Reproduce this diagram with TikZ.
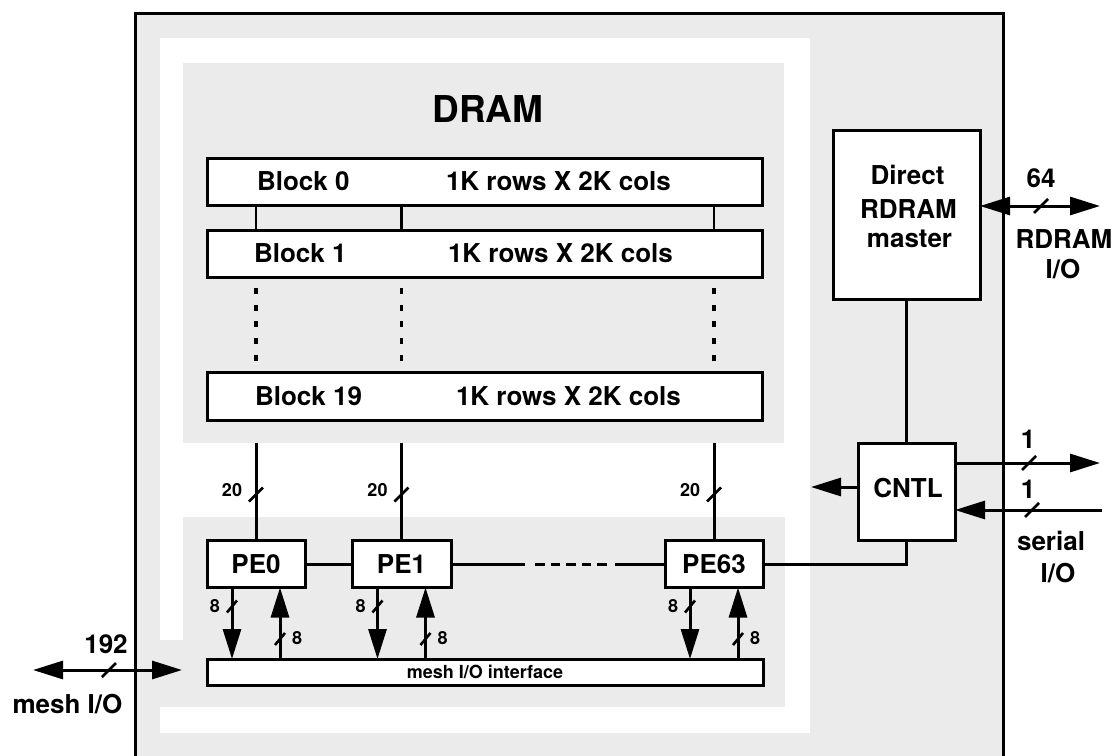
\documentclass[tikz,border=0pt]{standalone}
\usepackage{fontspec}
\setmainfont{TeX Gyre Heros}
\usetikzlibrary{arrows.meta,calc}
\begin{document}
\begin{tikzpicture}[x=1pt,y=-1pt,
  every node/.style={inner sep=0pt, outer sep=0pt, font=\bfseries},
  big/.style={font=\bfseries\fontsize{26}{30}\selectfont},
  huge/.style={font=\bfseries\fontsize{37}{42}\selectfont},
  small/.style={font=\bfseries\fontsize{18}{20}\selectfont},
  tiny/.style={font=\bfseries\fontsize{18}{20}\selectfont},
  box/.style={draw, line width=3pt, fill=white},
  blockbox/.style={box, minimum width=555pt, minimum height=47pt},
  pebox/.style={box, big, minimum width=98pt, minimum height=47pt},
  wire/.style={line width=3pt},
  thinwire/.style={line width=2.6pt},
  dotv/.style={line width=3.5pt, dash pattern=on 6pt off 10.8pt},
  doth/.style={line width=3pt, dash pattern=on 9.5pt off 6pt},
  arr/.style={line width=3pt, -{Triangle[length=30pt,width=18pt]}},
  darr/.style={line width=3pt, {Triangle[length=30pt,width=18pt]}-{Triangle[length=30pt,width=18pt]}},
  bustick/.style={line width=2.6pt},
  bg/.style={fill=black!8, draw=none}
]
\useasboundingbox (0,0) rectangle (1116,755);

% backgrounds
\fill[bg] (135,13) rectangle (1003,770);
\fill[white] (160,38) rectangle (810,733);
\fill[bg] (183,63) rectangle (784,443);
\fill[bg] (183,517) rectangle (785,640);
\fill[bg] (135,640) rectangle (785,707);
\draw[line width=3pt] (135,770) -- (135,13) -- (1003,13) -- (1003,770);

% column coordinates
\coordinate (c1) at (256,0);
\coordinate (c2) at (401.5,0);
\coordinate (c3) at (714,0);

% DRAM title
\node[huge, anchor=base] (dram) at (488,122) {DRAM};

% blocks
\node[blockbox] (b0) at (484.5,181.5) {};
\node[blockbox] (b1) at (484.5,253.5) {};
\node[blockbox, minimum height=48pt] (b19) at (484.5,396) {};

\node[big, anchor=base west] (b0a) at (257,190.5) {Block 0};
\node[big, anchor=base west] (b0b) at (446,190.5) {1K rows X 2K cols};
\node[big, anchor=base west] (b1a) at (254,262) {Block 1};
\node[big, anchor=base west] (b1b) at (448,262) {1K rows X 2K cols};
\node[big, anchor=base west] (b19a) at (255,405) {Block 19};
\node[big, anchor=base west] (b19b) at (456,405) {1K rows X 2K cols};

% block connectors
\foreach \c in {c1,c2,c3} {
  \draw[thinwire] (b0.south -| \c) -- (b1.north -| \c);
  \draw[dotv] ($(b1.south -| \c)+(0,10.8)$) -- ($(b19.north -| \c)+(0,-11)$);
}

% PEs
\node[pebox] (pe0) at (256,564) {PE0};
\node[pebox, minimum width=99pt] (pe1) at (401.5,564) {PE1};
\node[pebox] (pe63) at (714,564) {PE63};

% mesh I/O interface bar
\node[box, small, minimum width=556pt, minimum height=26pt] (bar) at (485,672) {mesh I/O interface};

% 20-bit lines
\coordinate (t1) at (256,443);
\coordinate (t2) at (401.5,443);
\coordinate (t3) at (714,443);
\draw[wire] (t1) -- (pe0.north);
\draw[wire] (t2) -- (pe1.north);
\draw[wire] (t3) -- (pe63.north);
\foreach \p in {pe0,pe1,pe63} {
  \draw[bustick] ($(\p.north)+(-7,-39)$) -- ($(\p.north)+(7,-53)$);
  \node[small, anchor=base] at ($(\p.north)+(-24,-44)$) {20};
  % PE <-> mesh interface
  \draw[arr] ($(\p.south)+(-24,0)$) -- ($(\p.south |- bar.north)+(-24,0)$);
  \draw[arr] ($(\p.south |- bar.north)+(24,0)$) -- ($(\p.south)+(24,0)$);
  \draw[bustick] ($(\p.south)+(-29,25)$) -- ($(\p.south)+(-19,13)$);
  \draw[bustick] ($(\p.south |- bar.north)+(19,-14)$) -- ($(\p.south |- bar.north)+(29,-26)$);
  \node[tiny, anchor=base] at ($(\p.south)+(-41,25)$) {8};
  \node[tiny, anchor=base] at ($(\p.south)+(41,57)$) {8};
}

% PE chain
\coordinate (d1) at (525,564);
\coordinate (d2) at (535,564);
\coordinate (d3) at (607,564);
\coordinate (d4) at (615,564);
\draw[wire] (pe0.east) -- (pe1.west);
\draw[wire] (pe1.east) -- (d1);
\draw[doth] (d2) -- (d3);
\draw[wire] (d4) -- (pe63.west);

% Direct RDRAM master
\node[box, minimum width=147pt, minimum height=169pt] (master) at (906.5,214.5) {};
\node[big, anchor=base] (m1) at (907.5,184) {Direct};
\node[big, anchor=base] (m2) at (908.5,218) {RDRAM};
\node[big, anchor=base] (m3) at (909.5,247) {master};

% CNTL
\node[box, minimum width=97pt, minimum height=97pt] (cntl) at (906.5,491.5) {};
\node[big, anchor=base] (cntltxt) at (908,497) {CNTL};

\draw[wire] (master.south) -- (cntl.north);
\draw[wire] (cntl.south) -- (cntl.south |- pe63.east) -- (pe63.east);
\coordinate (cl) at (811,487);
\draw[arr] (cntl.west |- cl) -- (cl);

% RDRAM I/O
\coordinate (rdr) at (1100,206);
\draw[darr] (master.east |- rdr) -- (rdr);
\draw[bustick] (1034,213) -- (1048,199);
\node[big, anchor=base] (n64) at (1041,187) {64};
\node[big, anchor=base] (rio1) at (1064,248) {RDRAM};
\node[big, anchor=base] (rio2) at (1063,278) {I/O};

% serial I/O
\coordinate (so) at (1100,463);
\coordinate (si) at (1102,510);
\draw[arr] (cntl.east |- so) -- (so);
\draw[arr] (si) -- (cntl.east |- si);
\draw[bustick] (1022,470) -- (1036,456);
\draw[bustick] (1025,517) -- (1039,503);
\node[big, anchor=base] (one1) at (1028,448) {1};
\node[big, anchor=base] (one2) at (1028,498) {1};
\node[big, anchor=base] (ser1) at (1051,550) {serial};
\node[big, anchor=base] (ser2) at (1058,582) {I/O};

% mesh I/O
\coordinate (ml) at (33,670);
\coordinate (mr) at (182,670);
\draw[darr] (ml) -- (mr);
\draw[bustick] (102,677) -- (116,663);
\node[big, anchor=base] (n192) at (106,653) {192};
\node[big, anchor=base] (mio) at (67.5,713) {mesh I/O};

\end{tikzpicture}
\end{document}
